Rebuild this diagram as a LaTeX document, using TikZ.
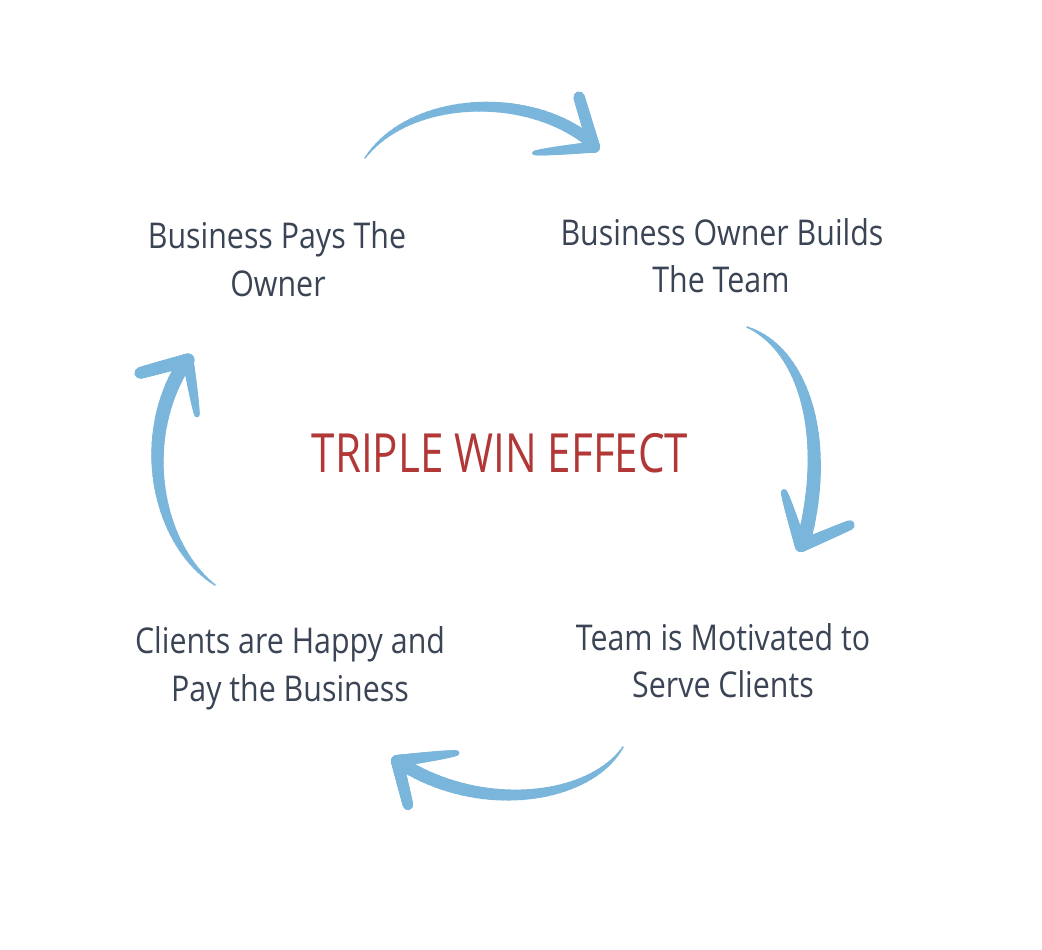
\documentclass[tikz,border=0pt]{standalone}
\usepackage{fontspec}
\setmainfont{Open Sans}[FakeStretch=0.855]
\newfontfamily\titlefont{Open Sans}[FakeStretch=0.78]
\definecolor{brushblue}{RGB}{122,182,219}
\definecolor{labelgray}{RGB}{58,68,84}
\definecolor{titlered}{RGB}{178,56,56}
\newcommand\brushstroke[6]{%
  \foreach \i in {0,...,39}{%
    \pgfmathsetmacro\ta{\i/40}%
    \pgfmathsetmacro\tb{(\i+1)/40}%
    \pgfmathsetmacro\wd{#5+(#6-#5)*(1-(1-\tb)*(1-\tb))}%
    \pgfpointcurveattime{\ta}{\pgfpointanchor{#1}{center}}{\pgfpointanchor{#2}{center}}{\pgfpointanchor{#3}{center}}{\pgfpointanchor{#4}{center}}%
    \pgfgetlastxy{\xa}{\ya}%
    \pgfpointcurveattime{\tb}{\pgfpointanchor{#1}{center}}{\pgfpointanchor{#2}{center}}{\pgfpointanchor{#3}{center}}{\pgfpointanchor{#4}{center}}%
    \pgfgetlastxy{\xb}{\yb}%
    \draw[brush, line width=\wd pt] (\xa,\ya) -- (\xb,\yb);
  }}
\begin{document}
\begin{tikzpicture}[x=1pt,y=-1pt,
  brush/.style={draw=brushblue, line cap=round},
  label/.style={anchor=base, text=labelgray, inner sep=0pt, font=\fontsize{35.5}{42}\selectfont},
  title/.style={anchor=base, text=titlered, inner sep=0pt, font=\titlefont\fontsize{54}{60}\selectfont}]
\useasboundingbox[fill=white] (0,0) rectangle (1042,950);

% labels
\node[label] (bp1) at (277,248) {Business Pays The};
\node[label] (bp2) at (278,296) {Owner};
\node[label] (bo1) at (722,245) {Business Owner Builds};
\node[label] (bo2) at (721,292) {The Team};
\node[label] (tm1) at (723,650) {Team is Motivated to};
\node[label] (tm2) at (723,697) {Serve Clients};
\node[label] (cl1) at (290,653) {Clients are Happy and};
\node[label] (cl2) at (290,701) {Pay the Business};
\node[title] (title) at (500,472) {TRIPLE WIN EFFECT};

% top arrow
\coordinate (a0) at (365,158); \coordinate (a1) at (410,95);
\coordinate (a2) at (530,90);  \coordinate (a3) at (592,143);
\coordinate (ab1) at (579,97); \coordinate (ab2) at (534,153);
\coordinate (at) at (594,147);
\brushstroke{a0}{a1}{a2}{a3}{1}{12}
\brushstroke{ab1}{ab1}{at}{at}{11}{12}
\brushstroke{ab2}{ab2}{at}{at}{3}{11}

% right arrow
\coordinate (b0) at (747,327); \coordinate (b1) at (805,350);
\coordinate (b2) at (830,440); \coordinate (b3) at (804,540);
\coordinate (bb1) at (784,492); \coordinate (bb2) at (850,525);
\coordinate (bt) at (801,546);
\brushstroke{b0}{b1}{b2}{b3}{1}{14}
\brushstroke{bb1}{bb1}{bt}{bt}{5}{12}
\brushstroke{bb2}{bb2}{bt}{bt}{9}{12}

% bottom arrow
\coordinate (c0) at (623,747); \coordinate (c1) at (590,800);
\coordinate (c2) at (480,815); \coordinate (c3) at (399,762);
\coordinate (cb1) at (457,753); \coordinate (cb2) at (408,805);
\coordinate (ct) at (397,761);
\brushstroke{c0}{c1}{c2}{c3}{1}{13}
\brushstroke{cb1}{cb1}{ct}{ct}{4}{12}
\brushstroke{cb2}{cb2}{ct}{ct}{10}{12}

% left arrow
\coordinate (d0) at (215,585); \coordinate (d1) at (158,545);
\coordinate (d2) at (135,440); \coordinate (d3) at (185,362);
\coordinate (db1) at (140,373); \coordinate (db2) at (197,415);
\coordinate (dt) at (188,360);
\brushstroke{d0}{d1}{d2}{d3}{1}{14}
\brushstroke{db1}{db1}{dt}{dt}{11}{13}
\brushstroke{db2}{db2}{dt}{dt}{4}{11}
\end{tikzpicture}
\end{document}
